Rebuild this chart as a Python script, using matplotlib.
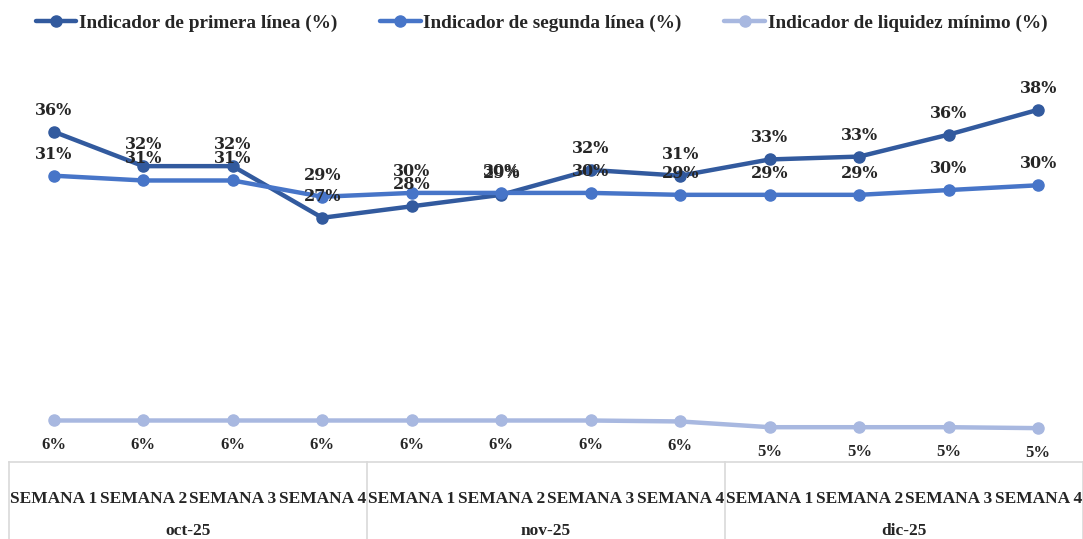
import matplotlib.pyplot as plt
from matplotlib.lines import Line2D
from matplotlib.transforms import blended_transform_factory

# datos
semanas = ['SEMANA 1', 'SEMANA 2', 'SEMANA 3', 'SEMANA 4'] * 3
meses = ['oct-25', 'nov-25', 'dic-25']
primera = [36.0, 32.4, 32.4, 27.0, 28.2, 29.4, 32.0, 31.4, 33.1, 33.4, 35.7, 38.3]
segunda = [31.4, 30.9, 30.9, 29.2, 29.6, 29.6, 29.6, 29.4, 29.4, 29.4, 29.9, 30.4]
minimo = [5.8, 5.8, 5.8, 5.8, 5.8, 5.8, 5.8, 5.7, 5.1, 5.1, 5.1, 5.0]

series = [
    ('Indicador de primera línea (%)', primera, '#325A9E', 'above'),
    ('Indicador de segunda línea (%)', segunda, '#4775C8', 'above'),
    ('Indicador de liquidez mínimo (%)', minimo, '#A8B8E0', 'below'),
]

W, H = 1083, 539
fig = plt.figure(figsize=(W / 100, H / 100), dpi=100)
ax = fig.add_axes([9 / W, 1 - 462 / H, 1 - 9 / W, (462 - 60) / H])

x = list(range(len(semanas)))
for name, vals, color, pos in series:
    ax.plot(x, vals, color=color, linewidth=3.2, marker='o', markersize=8, label=name,
            solid_capstyle='round')
    for xi, v in zip(x, vals):
        if pos == 'above':
            ax.annotate('{:.0f}%'.format(v), (xi, v), xytext=(0, 15.5), textcoords='offset points',
                        ha='center', va='center', fontsize=11.5, fontweight='bold',
                        family='DejaVu Serif', color='#262626')
        else:
            ax.annotate('{:.0f}%'.format(v), (xi, v), xytext=(0, -18), textcoords='offset points',
                        ha='center', va='center', fontsize=12, fontweight='bold',
                        family='Liberation Serif', color='#262626')

ax.set_xlim(-0.5, len(semanas) - 0.5)
ax.set_ylim(1.46, 43.5)
ax.set_yticks([])
for s in ['top', 'right', 'left', 'bottom']:
    ax.spines[s].set_visible(False)
ax.set_xticks(x)
ax.set_xticklabels(semanas, fontsize=12.5, fontweight='bold', family='Liberation Serif', color='#262626')
ax.tick_params(axis='x', length=0, pad=21)

# tabla de categorías bajo el eje
grid_color = '#D9D9D9'
fig.add_artist(Line2D([9 / W, 1], [1 - 462 / H] * 2, color=grid_color, linewidth=1.2))
for k in range(len(meses) + 1):
    xf = (9 + k * (W - 9) / len(meses)) / W
    fig.add_artist(Line2D([xf, xf], [0, 1 - 462 / H], color=grid_color, linewidth=1.2))
trans = blended_transform_factory(ax.transData, fig.transFigure)
for k, mes in enumerate(meses):
    ax.text(k * 4 + 1.5, 1 - 531 / H, mes, transform=trans,
            ha='center', va='center', fontsize=12.5, fontweight='bold', family='Liberation Serif',
            color='#262626')

fig.legend(loc='upper center', bbox_to_anchor=(0.5, 1.005), ncol=3, frameon=False,
           prop={'family': 'Liberation Serif', 'weight': 'bold', 'size': 13.9},
           handlelength=2.1, handletextpad=0.15, columnspacing=2.2, labelcolor='#262626')

fig.savefig('out.png', dpi=100)
